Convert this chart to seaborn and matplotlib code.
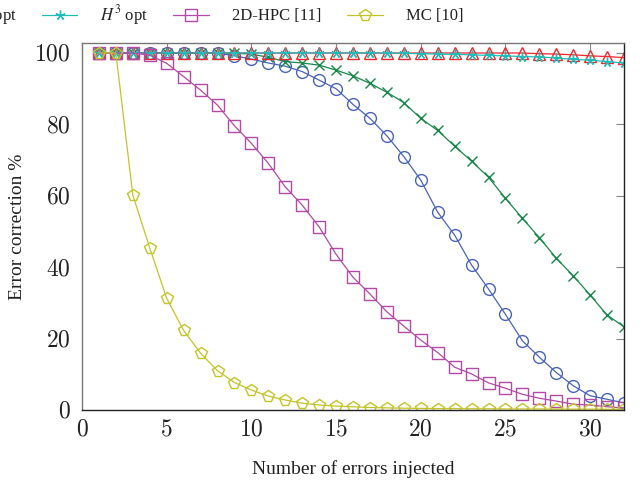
import matplotlib
matplotlib.use("Agg")
import matplotlib.pyplot as plt
import seaborn as sns
import numpy as np
from matplotlib.ticker import FuncFormatter
from matplotlib.font_manager import FontProperties

# ---- data ----
errors = list(range(1, 33))
blue_vals = [100, 100, 100, 100, 100, 100, 100, 100, 99.2, 98.3, 97.2, 96.3, 94.8, 92.4, 90.0, 85.6,
             81.7, 76.8, 71.0, 64.4, 55.4, 49.0, 40.6, 33.9, 26.8, 19.4, 14.8, 10.5, 6.8, 4.0, 3.0, 2.0]
green_vals = [100, 100, 100, 100, 100, 100, 100, 100, 99.9, 99.7, 98.8, 97.6, 97.2, 96.6, 95.2, 93.6,
              91.5, 89.0, 86.1, 81.7, 78.3, 73.9, 69.7, 65.2, 59.3, 53.7, 48.3, 42.5, 37.6, 32.2, 26.6, 23.3]
red_vals = [100, 100, 100, 100, 100, 100, 100, 100, 100, 100, 100, 100, 100, 100, 100, 100,
            100, 100, 100, 100, 100, 100, 100, 100, 100, 100, 99.8, 99.7, 99.5, 99.2, 99.0, 98.7]
cyan_vals = [100, 100, 100, 100, 100, 100, 100, 100, 100, 100, 100, 100, 100, 100, 100, 100,
             100, 100, 99.9, 99.8, 99.7, 99.6, 99.5, 99.3, 99.2, 99.0, 98.9, 98.6, 98.2, 98.0, 97.6, 97.2]
hpc_vals = [100, 100, 100, 99.4, 97.1, 93.4, 89.6, 85.4, 79.6, 74.7, 69.1, 62.5, 57.4, 51.3, 43.6, 37.2,
            32.5, 27.5, 23.5, 19.6, 16.1, 12.0, 10.1, 7.6, 6.1, 4.4, 3.3, 2.5, 1.6, 1.4, 0.9, 0.6]
mc_vals = [100, 100, 60.2, 45.4, 31.3, 22.3, 15.9, 11.0, 7.7, 5.6, 3.9, 2.8, 1.9, 1.4, 1.1, 0.9,
           0.7, 0.6, 0.5, 0.45, 0.4, 0.4, 0.35, 0.35, 0.3, 0.3, 0.3, 0.25, 0.25, 0.25, 0.2, 0.2]

labels = ["$H^2$", "$H^3$", "$H^2$ opt", "$H^3$ opt", "2D-HPC [11]", "MC [10]"]
x_ticks = [0, 5, 10, 15, 20, 25, 30]
y_ticks = [0, 20, 40, 60, 80, 100]

sns.set_theme(style="white")
plt.rcParams["mathtext.fontset"] = "cm"
plt.rcParams["font.family"] = ["Liberation Serif", "DejaVu Serif"]

fig = plt.figure(figsize=(6.44, 4.82), dpi=100)
ax = fig.add_axes([82 / 644, 1 - 410 / 482, (624 - 82) / 644, (410 - 43) / 482])

series = [
    (blue_vals, "#4a63b8", dict(marker="o", markersize=8.5)),
    (green_vals, "#17884a", dict(marker="x", markersize=7)),
    (red_vals, "#f0282e", dict(marker="^", markersize=8)),
    (cyan_vals, "#1fbcbc", dict(marker=(5, 2, 0), markersize=7)),
    (hpc_vals, "#b24aa6", dict(marker="s", markersize=8)),
    (mc_vals, "#c4c429", dict(marker="p", markersize=8.5)),
]

for (vals, col, mk), lab in zip(series, labels):
    sns.lineplot(x=errors, y=vals, ax=ax, color=col, linewidth=0.9, label=lab,
                 markerfacecolor="none", markeredgecolor=col, markeredgewidth=1.0, **mk)

ax.set_xlim(0, 32)
ax.set_ylim(0, 102.8)
ax.set_xticks(x_ticks)
ax.set_yticks(y_ticks)
fmt = FuncFormatter(lambda v, p: f"${v:g}$")
ax.xaxis.set_major_formatter(fmt)
ax.yaxis.set_major_formatter(fmt)
ax.tick_params(direction="in", length=6, width=0.8, color="#888888", top=True, right=True,
               labelsize=17, labelcolor="#222222")
ax.tick_params(axis="x", pad=7)
ax.tick_params(axis="y", pad=8)

for s in ["left", "top"]:
    ax.spines[s].set_color("#777777")
for s in ["bottom", "right"]:
    ax.spines[s].set_color("#222222")
for s in ax.spines.values():
    s.set_linewidth(1.0)

ax.set_xlabel("Number of errors injected", fontsize=14, color="#222222", labelpad=14)
ax.set_ylabel("Error correction %", fontsize=14, color="#222222", labelpad=6)

prop = FontProperties(family="Liberation Serif", size=12, math_fontfamily="stix")
leg = ax.legend(loc="center right", bbox_to_anchor=(463 / 644, 1 - 15 / 482),
                bbox_transform=fig.transFigure, ncol=6, frameon=False, prop=prop,
                handlelength=2.15, handletextpad=1.38, columnspacing=1.5, borderpad=0,
                borderaxespad=0)
for t in leg.get_texts():
    t.set_color("#222222")

fig.savefig("out.png", dpi=100)
